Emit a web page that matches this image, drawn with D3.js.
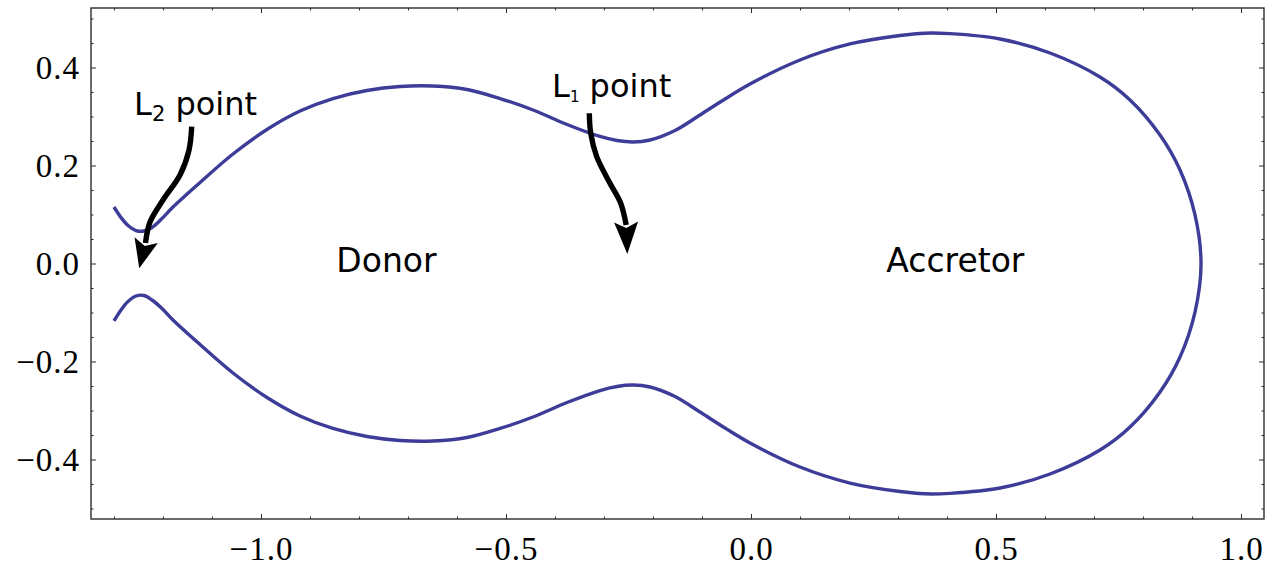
<!DOCTYPE html>
<html>
<head>
<meta charset="utf-8">
<script src="https://cdn.jsdelivr.net/npm/d3@7"></script>
<style>
  body { margin: 0; background: #fff; }
  svg { display: block; }
</style>
</head>
<body>
<svg id="chart" width="1276" height="567"></svg>
<script>
// Critical Roche-lobe equipotential, traced in order:
// upper L2 tip -> over the donor -> L1 neck -> round the accretor -> back underneath -> lower L2 tip
const contourX = [
  -1.3000, -1.2857, -1.2714, -1.2551, -1.2388, -1.2224, -1.2020, -1.1796, -1.1245, -1.0571,
  -0.9878, -0.9204, -0.8531, -0.7837, -0.7163, -0.6490, -0.5796, -0.5122, -0.4449, -0.3755,
  -0.3082, -0.2735, -0.2408, -0.2061, -0.1551, -0.1041, -0.0531, -0.0020, 0.1000, 0.2020,
  0.3041, 0.3551, 0.4061, 0.5082, 0.6102, 0.7122, 0.7735, 0.8347, 0.8755, 0.9061,
  0.9184,
  0.9061, 0.8755, 0.8347, 0.7735, 0.7122, 0.6102, 0.5082, 0.4061, 0.3551, 0.3041,
  0.2020, 0.1000, -0.0020, -0.0531, -0.1041, -0.1551, -0.2061, -0.2408, -0.2735, -0.3082,
  -0.3755, -0.4449, -0.5122, -0.5796, -0.6490, -0.7163, -0.7837, -0.8531, -0.9204, -0.9878,
  -1.0571, -1.1245, -1.1796, -1.2020, -1.2224, -1.2388, -1.2551, -1.2714, -1.2857, -1.3000
];
const contourY = [
  0.1153, 0.0939, 0.0776, 0.0673, 0.0663, 0.0735, 0.0918, 0.1153, 0.1653, 0.2235,
  0.2735, 0.3112, 0.3367, 0.3531, 0.3612, 0.3622, 0.3551, 0.3367, 0.3133, 0.2837,
  0.2592, 0.2510, 0.2480, 0.2520, 0.2714, 0.3031, 0.3357, 0.3663, 0.4153, 0.4480,
  0.4653, 0.4700, 0.4690, 0.4582, 0.4296, 0.3806, 0.3337, 0.2622, 0.1908, 0.0990,
  0.0000,
  -0.0990, -0.1908, -0.2622, -0.3337, -0.3806, -0.4296, -0.4582, -0.4690, -0.4700, -0.4653,
  -0.4480, -0.4153, -0.3663, -0.3357, -0.3031, -0.2714, -0.2520, -0.2480, -0.2510, -0.2592,
  -0.2837, -0.3133, -0.3367, -0.3551, -0.3622, -0.3612, -0.3531, -0.3367, -0.3112, -0.2735,
  -0.2235, -0.1653, -0.1153, -0.0918, -0.0745, -0.0653, -0.0663, -0.0776, -0.0949, -0.1173
];

// Axis ticks and labels
const xTicks = [-1.0, -0.5, 0.0, 0.5, 1.0];
const xTickLabels = ["\u22121.0", "\u22120.5", "0.0", "0.5", "1.0"];
const xMinorTicks = [-1.3, -1.2, -1.1, -0.9, -0.8, -0.7, -0.6, -0.4, -0.3, -0.2, -0.1,
                     0.1, 0.2, 0.3, 0.4, 0.6, 0.7, 0.8, 0.9];
const yTicks = [-0.4, -0.2, 0.0, 0.2, 0.4];
const yTickLabels = ["\u22120.4", "\u22120.2", "0.0", "0.2", "0.4"];
const yMinorTicks = [-0.5, -0.45, -0.35, -0.3, -0.25, -0.15, -0.1, -0.05,
                     0.05, 0.1, 0.15, 0.25, 0.3, 0.35, 0.45, 0.5];

// Region names and their anchor points (data units)
const regionNames = ["Donor", "Accretor"];
const regionX = [-0.744, 0.417];
const regionY = [-0.017, -0.017];

// Lagrange-point callouts: label anchor and the bent arrow path (data units)
const calloutNames = ["L", "L"];
const calloutSubs = ["2", "1"];
const calloutX = [-1.259, -0.406];
const calloutY = [0.303, 0.340];
const l2ArrowX = [-1.1414, -1.1469, -1.1653, -1.2000, -1.2265, -1.2357, -1.2484];
const l2ArrowY = [0.2792, 0.2316, 0.1806, 0.1296, 0.0847, 0.0418, -0.0098];
const l1ArrowX = [-0.3300, -0.3271, -0.3149, -0.2878, -0.2659, -0.2547, -0.2524];
const l1ArrowY = [0.3065, 0.2657, 0.2180, 0.1637, 0.1229, 0.0786, 0.0194];

const svg = d3.select("#chart");
const W = 1276, H = 567;
const margin = { left: 91, top: 8, right: 12, bottom: 48 };
const iw = W - margin.left - margin.right;
const ih = H - margin.top - margin.bottom;

const x = d3.scaleLinear().domain([-1.3469, 1.0469]).range([0, iw]);
const y = d3.scaleLinear().domain([-0.5214, 0.5214]).range([ih, 0]);

const g = svg.append("g").attr("transform", `translate(${margin.left},${margin.top})`);

const frameColor = "#2b2b2b";
const tickFont = "'Liberation Serif', 'Times New Roman', serif";

// Tick marks only (labels removed), pointing into the frame
function bareAxis(axis, sel) {
  sel.call(axis).call(s => s.select(".domain").remove())
     .call(s => s.selectAll("line").attr("stroke", frameColor).attr("stroke-width", 1))
     .call(s => s.selectAll("text").remove());
}
bareAxis(d3.axisBottom(x).tickValues(xMinorTicks).tickSize(-2.5),
  g.append("g").attr("transform", `translate(0,${ih})`));
bareAxis(d3.axisTop(x).tickValues(xMinorTicks).tickSize(-2.5), g.append("g"));
bareAxis(d3.axisLeft(y).tickValues(yMinorTicks).tickSize(-2.5), g.append("g"));
bareAxis(d3.axisRight(y).tickValues(yMinorTicks).tickSize(-2.5),
  g.append("g").attr("transform", `translate(${iw},0)`));
bareAxis(d3.axisTop(x).tickValues(xTicks).tickSize(-5), g.append("g"));
bareAxis(d3.axisRight(y).tickValues(yTicks).tickSize(-5),
  g.append("g").attr("transform", `translate(${iw},0)`));

// Labelled major ticks on bottom and left
const xAxisG = g.append("g").attr("transform", `translate(0,${ih})`)
  .call(d3.axisBottom(x).tickValues(xTicks).tickSize(-5).tickPadding(0)
    .tickFormat((d, i) => xTickLabels[i]));
xAxisG.select(".domain").remove();
xAxisG.selectAll("line").attr("stroke", frameColor).attr("stroke-width", 1);
xAxisG.selectAll("text")
  .attr("y", 41).attr("dy", null)
  .attr("fill", "#000")
  .style("font-family", tickFont).style("font-size", "33px").style("letter-spacing", "1px");

const yAxisG = g.append("g")
  .call(d3.axisLeft(y).tickValues(yTicks).tickSize(-5).tickPadding(0)
    .tickFormat((d, i) => yTickLabels[i]));
yAxisG.select(".domain").remove();
yAxisG.selectAll("line").attr("stroke", frameColor).attr("stroke-width", 1);
yAxisG.selectAll("text")
  .attr("x", -11).attr("dy", null).attr("y", 11)
  .attr("fill", "#000")
  .style("font-family", tickFont).style("font-size", "33px").style("letter-spacing", "1px");

// Frame
g.append("rect").attr("x", 0).attr("y", 0).attr("width", iw).attr("height", ih)
  .attr("fill", "none").attr("stroke", frameColor).attr("stroke-width", 1.4);

// Equipotential contour
const pts = contourX.map((v, i) => [v, contourY[i]]);
const line = d3.line().x(d => x(d[0])).y(d => y(d[1])).curve(d3.curveCatmullRom.alpha(0.5));
g.append("path").attr("d", line(pts))
  .attr("fill", "none").attr("stroke", "#3d3d99").attr("stroke-width", 3.4)
  .attr("stroke-linejoin", "round").attr("stroke-linecap", "butt");

// Region labels
const labelFont = "'DejaVu Sans', 'Noto Sans', sans-serif";
regionNames.forEach((name, i) => {
  g.append("text").attr("x", x(regionX[i])).attr("y", y(regionY[i]))
    .attr("text-anchor", "middle").attr("fill", "#000")
    .style("font-family", labelFont).style("font-size", "33px").text(name);
});

// Callout labels with subscripts
const subSizes = [21, 15];
const subShift = [5.5, 5];
calloutNames.forEach((name, i) => {
  const t = g.append("text").attr("x", x(calloutX[i])).attr("y", y(calloutY[i]))
    .attr("fill", "#000").style("font-family", labelFont).style("font-size", "32px");
  t.append("tspan").text(name);
  t.append("tspan").attr("dy", subShift[i]).style("font-size", subSizes[i] + "px").text(calloutSubs[i]);
  t.append("tspan").attr("dy", -subShift[i]).text(" point");
});

// Bent arrows: shaft through the traced points, notched head at the last point
function drawArrow(ax, ay) {
  const p = ax.map((v, i) => [x(v), y(ay[i])]);
  const tip = p[p.length - 1];
  const base = p[p.length - 2];
  const shaft = p.slice(0, p.length - 1);
  const shaftLine = d3.line().curve(d3.curveCatmullRom.alpha(0.5));
  g.append("path").attr("d", shaftLine(shaft))
    .attr("fill", "none").attr("stroke", "#000").attr("stroke-width", 5.4)
    .attr("stroke-linecap", "butt");
  const dx = tip[0] - base[0], dy = tip[1] - base[1];
  const len = Math.hypot(dx, dy);
  const ux = dx / len, uy = dy / len;
  const nx = -uy, ny = ux;
  const hw = 12;
  const back = [base[0] - ux * 3, base[1] - uy * 3];
  const notch = [base[0] + ux * 3, base[1] + uy * 3];
  const c1 = [back[0] + nx * hw, back[1] + ny * hw];
  const c2 = [back[0] - nx * hw, back[1] - ny * hw];
  g.append("path").attr("d", `M${tip}L${c1}L${notch}L${c2}Z`).attr("fill", "#000");
}
drawArrow(l2ArrowX, l2ArrowY);
drawArrow(l1ArrowX, l1ArrowY);
</script>
</body>
</html>
